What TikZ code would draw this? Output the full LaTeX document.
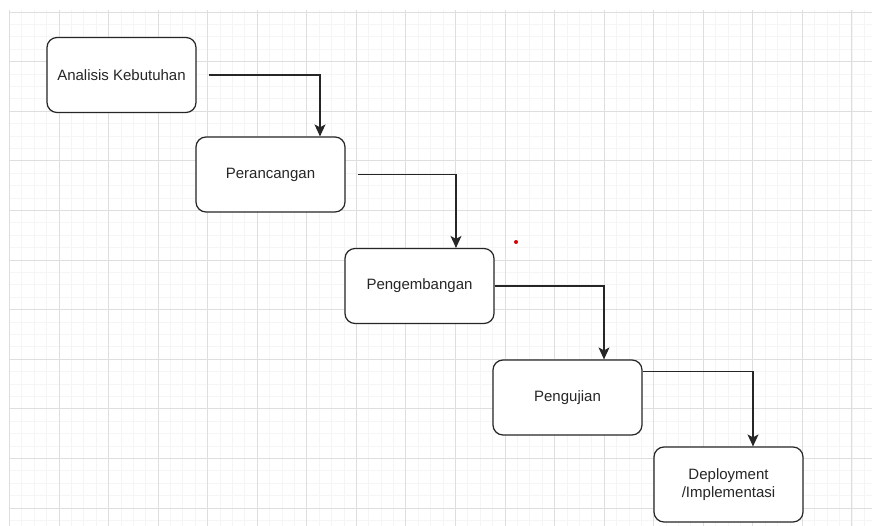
\documentclass[tikz,border=0pt]{standalone}
\usepackage{fontspec}
\setmainfont{Liberation Sans}
\usetikzlibrary{arrows.meta}
\begin{document}
\begin{tikzpicture}[x=1pt,y=-1pt,
  box/.style={draw=black!85, line width=1.2pt, rounded corners=10pt,
    minimum width=149pt, minimum height=75pt, inner sep=0pt,
    font=\fontsize{15}{18}\selectfont, text=black!85, align=center, fill=white},
  flow/.style={draw=black!85, line width=1.1pt,
    -{Stealth[length=12pt,width=11pt,inset=3pt]}},
  minorgrid/.style={draw=black!4, line width=0.9pt},
  majorgrid/.style={draw=black!13, line width=0.9pt}]
\useasboundingbox (0,0) rectangle (872,526);
\fill[white] (0,0) rectangle (872,526);
% grid
\foreach \i in {0,...,69} {\draw[minorgrid] ({9.45+12.39*\i},10) -- ({9.45+12.39*\i},526);}
\foreach \j in {0,...,41} {\draw[minorgrid] (10,{12+12.4*\j}) -- (872,{12+12.4*\j});}
\foreach \i in {0,...,17} {\draw[majorgrid] ({9.45+49.55*\i},10) -- ({9.45+49.55*\i},526);}
\foreach \j in {0,...,10} {\draw[majorgrid] (10,{12+49.6*\j}) -- (872,{12+49.6*\j});}
% boxes
\node[box] (a) at (121.5,75)  {Analisis Kebutuhan};
\node[box] (b) at (270.5,174.5) {Perancangan};
\node[box] (c) at (419.5,286) {Pengembangan};
\node[box] (d) at (567.5,397.5) {Pengujian};
\node[box] (e) at (728.5,484.5) {Deployment\\/Implementasi};
% connector start points
\coordinate (s1) at ([xshift=12pt]a.east);
\coordinate (s2) at ([xshift=12pt]b.east);
\coordinate (s3) at (c.east);
\coordinate (s4) at ([yshift=-12pt]d.north east);
% connectors
\draw[flow] (s1) -| ([xshift=49.5pt]b.north);
\draw[flow] (s2) -| ([xshift=36.5pt]c.north);
\draw[flow] (s3) -| ([xshift=36.5pt]d.north);
\draw[flow] (s4) -| ([xshift=24.5pt]e.north);
% red dot
\fill[red!85!black] (516,242) circle (2pt);
\end{tikzpicture}
\end{document}
